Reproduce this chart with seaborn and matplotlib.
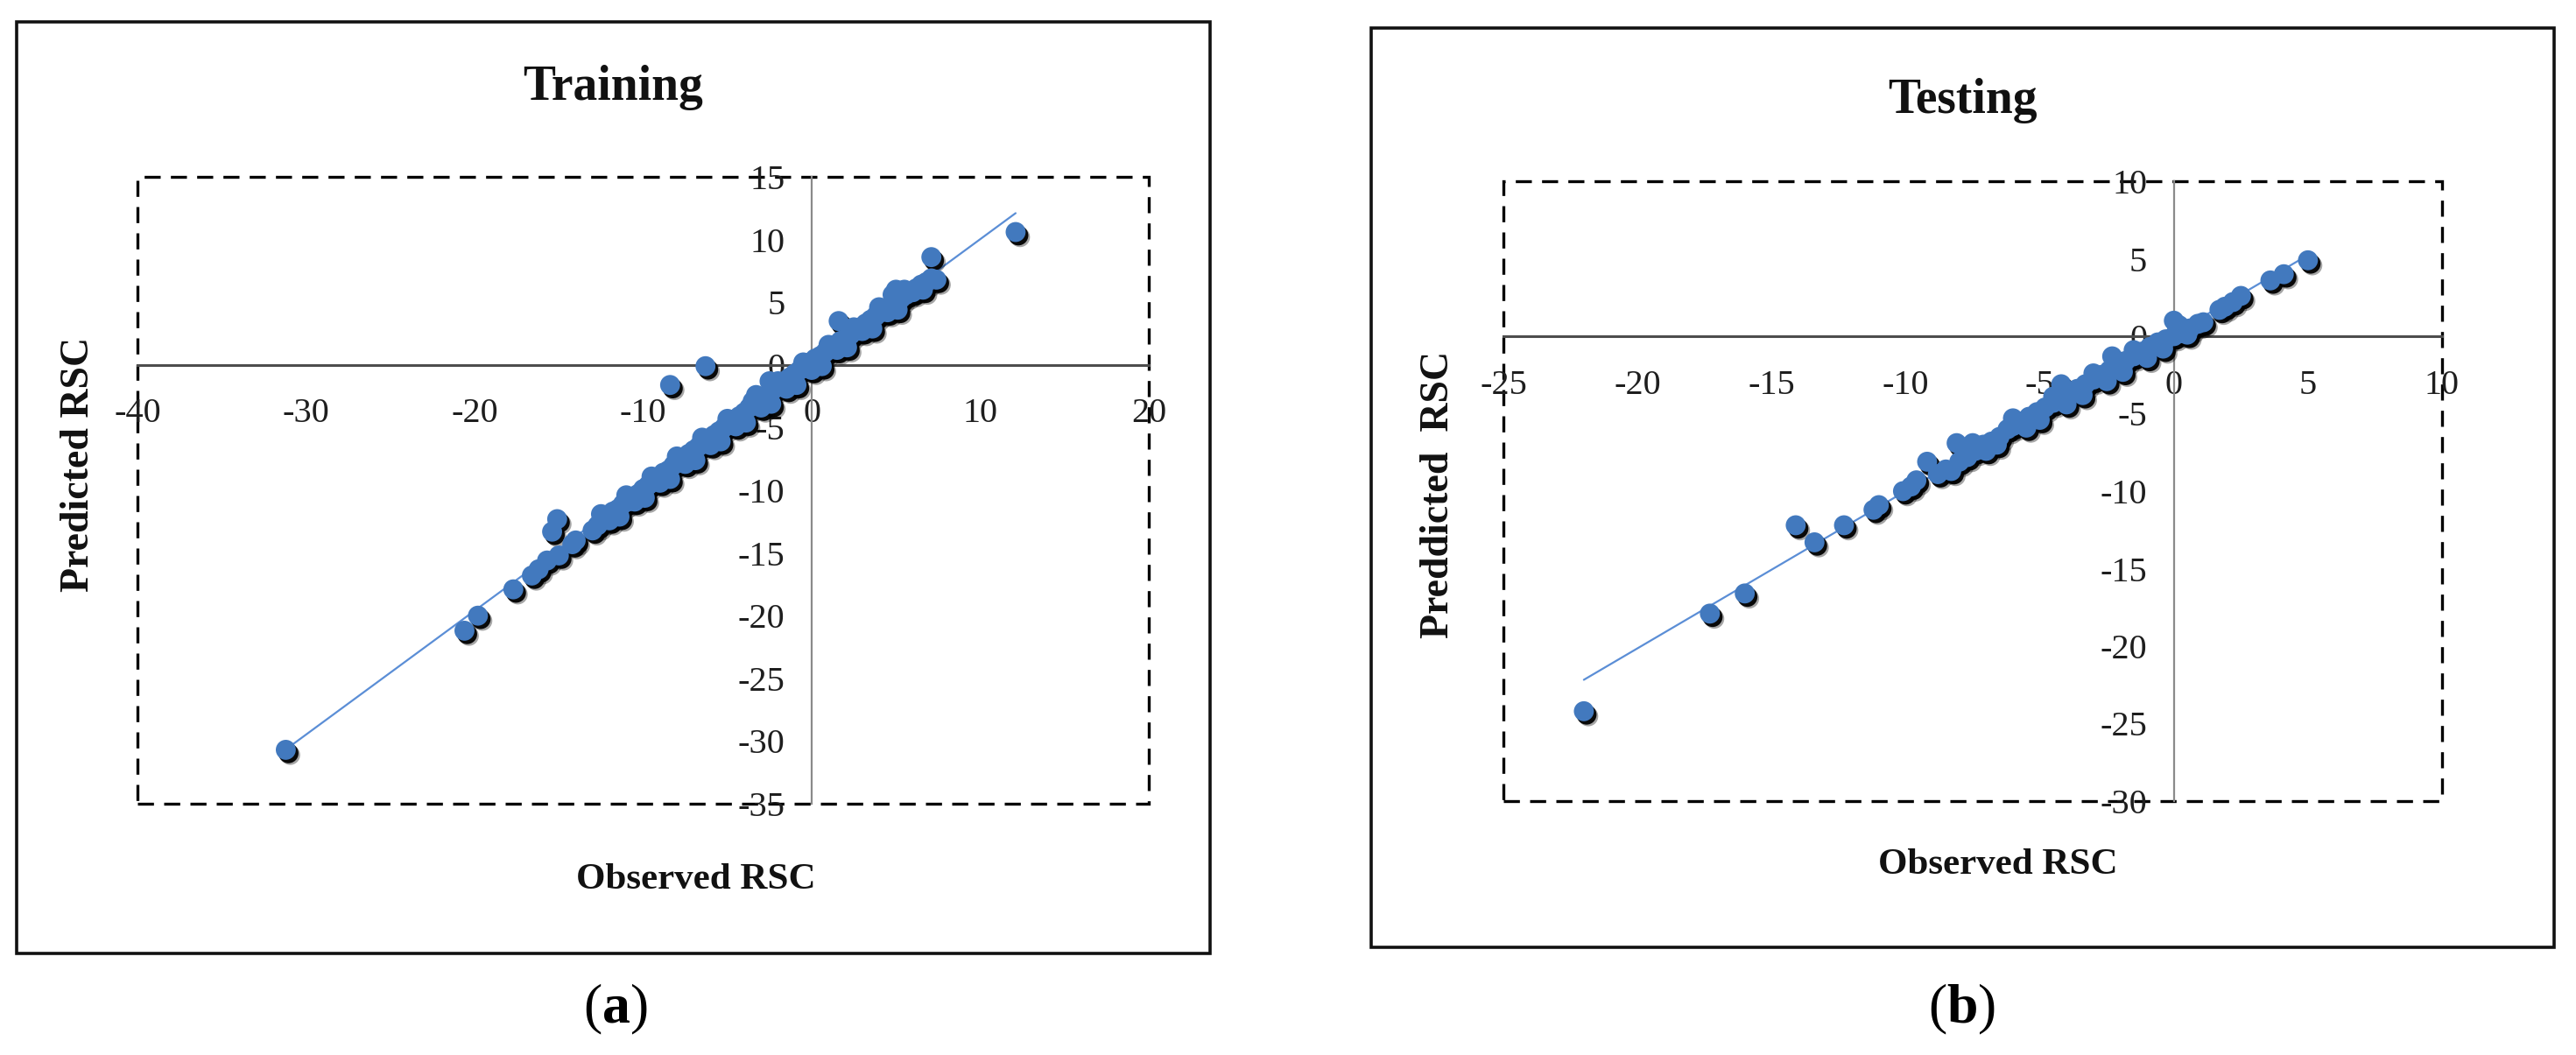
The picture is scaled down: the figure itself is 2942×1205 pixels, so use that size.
import numpy as np
import pandas as pd
import matplotlib
matplotlib.use("Agg")
import matplotlib.pyplot as plt
import seaborn as sns
from matplotlib import patheffects as pe
from matplotlib.patches import Rectangle

# ---------------- data ----------------
train_observed = [
    -31.2, -20.6, -19.8, -17.7, -16.6, -16.2, -15.7, -15.4, -15.1, -15.0, -14.2, -14.0,
    -13.0, -12.7, -12.4, -12.1, -11.8, -11.5, -11.2, -10.9, -10.6, -10.3, -10.0, -9.7,
    -9.4, -9.1, -8.8, -8.5, -8.2, -7.9, -7.6, -7.3, -7.0, -6.7, -6.4, -6.1, -5.8, -5.5,
    -5.2, -4.9, -4.6, -4.3, -4.0, -3.7, -3.4, -3.1, -2.8, -2.5, -2.2, -1.9, -1.6, -1.3,
    -1.0, -0.7, -0.4, -0.1, 0.2, 0.5, 0.8, 1.1, 1.4, 1.7, 2.0, 2.3, 2.6, 2.9, 3.2, 3.5,
    3.8, 4.1, 4.4, 4.7, 5.0, 5.3, 5.6, 5.9, 6.2, 6.5, 6.8, 7.1, 7.4,
    -12.0, -10.5, -9.0, -7.5, -6.0, -4.5, -3.0, -1.5, 0.0, 1.5, 3.0, 4.5, 6.0,
    -12.5, -11.0, -9.5, -8.0, -6.5, -5.0, -3.5, -2.0, -0.5, 1.0, 2.5, 4.0, 5.5,
    -11.4, -9.9, -8.4, -6.9, -5.4, -3.9, -2.4, -0.9, 0.6, 2.1, 3.6, 5.1, 6.6,
    -8.4, -6.3, -3.3, -2.5, 1.6, 5.0, 4.8, 7.1, 12.1,
]
train_predicted = [
    -30.7, -21.2, -20.0, -17.9, -16.8, -16.3, -15.6, -13.3, -12.3, -15.2, -14.3, -14.0,
    -13.2, -12.8, -12.4, -12.2, -11.7, -11.5, -11.1, -10.9, -10.5, -10.3, -9.9, -9.6,
    -9.2, -9.0, -8.6, -8.4, -8.0, -7.7, -7.5, -7.1, -6.8, -6.5, -6.2, -5.9, -5.6, -5.3,
    -5.0, -4.6, -4.4, -4.1, -3.8, -3.4, -3.2, -2.8, -2.6, -2.2, -1.9, -1.6, -1.3, -1.0,
    -0.7, -0.4, -0.1, 0.2, 0.5, 0.7, 1.0, 1.3, 1.6, 1.9, 2.1, 2.4, 2.7, 3.0, 3.3, 3.6,
    3.9, 4.2, 4.5, 4.8, 5.0, 5.3, 5.6, 5.9, 6.1, 6.4, 6.6, 6.9, 6.8,
    -12.4, -10.9, -9.4, -7.9, -6.4, -4.9, -3.4, -1.9, -0.4, 1.2, 2.7, 4.2, 5.8,
    -11.9, -10.4, -8.9, -7.3, -5.8, -4.3, -2.9, -1.3, 0.2, 1.6, 3.0, 4.6, 6.0,
    -12.1, -10.6, -9.1, -7.6, -6.1, -4.6, -3.1, -1.6, -0.1, 1.4, 2.9, 4.4, 6.0,
    -1.6, -0.1, -2.4, -1.3, 3.5, 6.0, 5.6, 8.6, 10.6,
]

test_observed = [
    -22.0, -17.3, -16.0, -14.1, -13.4, -12.3, -11.2, -11.0, -10.1, -9.8, -9.6, -9.2,
    -8.8, -8.5, -8.1, -8.0, -7.7, -7.4, -7.1, -6.8, -6.5, -6.2, -6.0, -5.7, -5.4, -5.1,
    -4.8, -4.5, -4.2, -4.2, -3.9, -3.6, -3.3, -3.0, -2.7, -2.3, -2.4, -2.1, -1.8, -1.5,
    -1.2, -0.9, -0.6, -0.3, 0.0, 0.0, 0.3, 0.6, 0.9, 1.1, 1.7, 1.9, 2.2, 2.5, 3.6, 4.1, 5.0,
    -7.0, -5.5, -4.0, -2.5, -1.0, 0.5,
    -7.5, -6.0, -4.5, -3.0, -1.5, 0.2,
    -8.3, -6.6, -5.0, -3.4, -1.9, -0.4,
]
test_predicted = [
    -24.2, -17.9, -16.6, -12.2, -13.3, -12.2, -11.2, -10.9, -10.0, -9.7, -9.3, -8.1,
    -8.9, -8.6, -6.9, -8.1, -7.8, -7.4, -7.0, -6.8, -6.5, -6.0, -5.8, -5.5, -5.2, -4.9,
    -4.6, -4.3, -3.1, -4.0, -3.7, -3.4, -3.1, -2.8, -2.5, -1.3, -2.2, -1.9, -1.6, -1.3,
    -1.0, -0.7, -0.4, -0.2, 1.0, 0.0, 0.2, 0.5, 0.8, 0.9, 1.7, 1.9, 2.2, 2.6, 3.6, 4.0, 4.9,
    -7.4, -5.9, -4.4, -2.9, -1.4, 0.1,
    -6.9, -5.3, -3.9, -2.4, -0.9, 0.7,
    -8.7, -7.0, -5.4, -3.8, -2.3, -0.8,
]

panels = [
    dict(obs=train_observed, pred=train_predicted, title="Training",
         ylabel="Predicted RSC", tag="a",
         xlim=(-40, 20), ylim=(-35, 15),
         xticks=[-40, -30, -20, -10, 0, 10, 20],
         yticks=[15, 10, 5, 0, -5, -10, -15, -20, -25, -30, -35]),
    dict(obs=test_observed, pred=test_predicted, title="Testing",
         ylabel="Preddicted  RSC", tag="b",
         xlim=(-25, 10), ylim=(-30, 10),
         xticks=[-25, -20, -15, -10, -5, 0, 5, 10],
         yticks=[10, 5, 0, -5, -10, -15, -20, -25, -30]),
]

# ---------------- style ----------------
sns.set_style("white")
plt.rcParams['font.family'] = ['Liberation Serif', 'DejaVu Serif']
plt.rcParams['mathtext.fontset'] = 'custom'
plt.rcParams['mathtext.rm'] = 'Liberation Serif'
plt.rcParams['mathtext.bf'] = 'Liberation Serif:bold'

W, H = 2942, 1205
fig = plt.figure(figsize=(W / 100, H / 100), dpi=100)
fig.patch.set_facecolor('white')

# layout in pixels (left, top, right, bottom)
axes_px = [(157, 202, 1312, 918), (1717, 207, 2789, 915)]
frame_px = [(19, 25, 1382, 1089), (1566, 32, 2917, 1082)]
title_px = [(700, 100), (2241, 115)]
xlabel_px = [(795, 1005), (2282, 988)]
ylabel_px = [(90, 530), (1643, 565)]
tag_px = [(703, 1153), (2241, 1153)]

def fx(x):
    return x / W

def fy(y):
    return 1 - y / H

BLUE = "#4279BE"

for i, p in enumerate(panels):
    l, t, r, b = axes_px[i]
    ax = fig.add_axes([fx(l), fy(b), (r - l) / W, (b - t) / H])
    df = pd.DataFrame({"Observed": p["obs"], "Predicted": p["pred"]})

    sns.regplot(data=df, x="Observed", y="Predicted", ax=ax, scatter=False,
                ci=None, truncate=True,
                line_kws=dict(color="#5B8ED6", lw=1.6, zorder=2))
    sns.scatterplot(data=df, x="Observed", y="Predicted", ax=ax, s=270,
                    color=BLUE, edgecolor="none", linewidth=0, zorder=3,
                    legend=False)
    coll = ax.collections[-1]
    coll.set_path_effects([
        pe.SimplePatchShadow(offset=(3.6, -4.2), shadow_rgbFace="black", alpha=0.35),
        pe.SimplePatchShadow(offset=(2.2, -2.8), shadow_rgbFace="black", alpha=0.95),
        pe.Normal(),
    ])

    ax.set_xlim(*p["xlim"])
    ax.set_ylim(*p["ylim"])
    ax.set_xticks(p["xticks"])
    ax.set_yticks(p["yticks"])
    ax.set_xlabel("")
    ax.set_ylabel("")
    ax.set_facecolor("none")

    for side in ["top", "right"]:
        ax.spines[side].set_visible(False)
    ax.spines["left"].set_position(("data", 0))
    ax.spines["bottom"].set_position(("data", 0))
    ax.spines["bottom"].set_color("#4d4d4d")
    ax.spines["bottom"].set_linewidth(2.2)
    ax.spines["left"].set_color("#8a8a8a")
    ax.spines["left"].set_linewidth(1.6)
    ax.spines["bottom"].set_zorder(1)
    ax.spines["left"].set_zorder(1)

    ax.tick_params(axis="x", direction="out", length=7, width=1.6,
                   color="#6e6e6e", pad=20, labelsize=29, labelcolor="#1e1e1e")
    ax.tick_params(axis="y", direction="out", length=8, width=1.6,
                   color="#8a8a8a", pad=14, labelsize=29, labelcolor="#1e1e1e")
    ax.set_xticklabels([str(v) for v in p["xticks"]])
    ax.set_yticklabels([str(v) for v in p["yticks"]])

    # dashed plot-area border
    ax.add_patch(Rectangle((0, 0), 1, 1, transform=ax.transAxes, fill=False,
                           ec="black", lw=2.4, ls=(0, (5.5, 3.5)),
                           clip_on=False, zorder=0.5))

    # outer frame
    fl, ft, fr, fb = frame_px[i]
    fig.patches.append(Rectangle((fx(fl), fy(fb)), (fr - fl) / W, (fb - ft) / H,
                                 transform=fig.transFigure, fill=False,
                                 ec="#111111", lw=2.6, zorder=0))

    tx, ty = title_px[i]
    fig.text(fx(tx), fy(ty), p["title"], ha="center", va="center",
             fontsize=40, fontweight="bold", color="#111111")
    xx, xy = xlabel_px[i]
    fig.text(fx(xx), fy(xy), "Observed RSC", ha="center", va="center",
             fontsize=31, fontweight="bold", color="#111111")
    yx, yy = ylabel_px[i]
    fig.text(fx(yx), fy(yy), p["ylabel"], ha="center", va="center",
             rotation=90, fontsize=33, fontweight="bold", color="#111111")
    gx, gy = tag_px[i]
    fig.text(fx(gx), fy(gy), r"$\mathrm{(}\mathbf{%s}\mathrm{)}$" % p["tag"],
             ha="center", va="center", fontsize=46, color="black")

fig.savefig("out.png", dpi=100, facecolor="white")
